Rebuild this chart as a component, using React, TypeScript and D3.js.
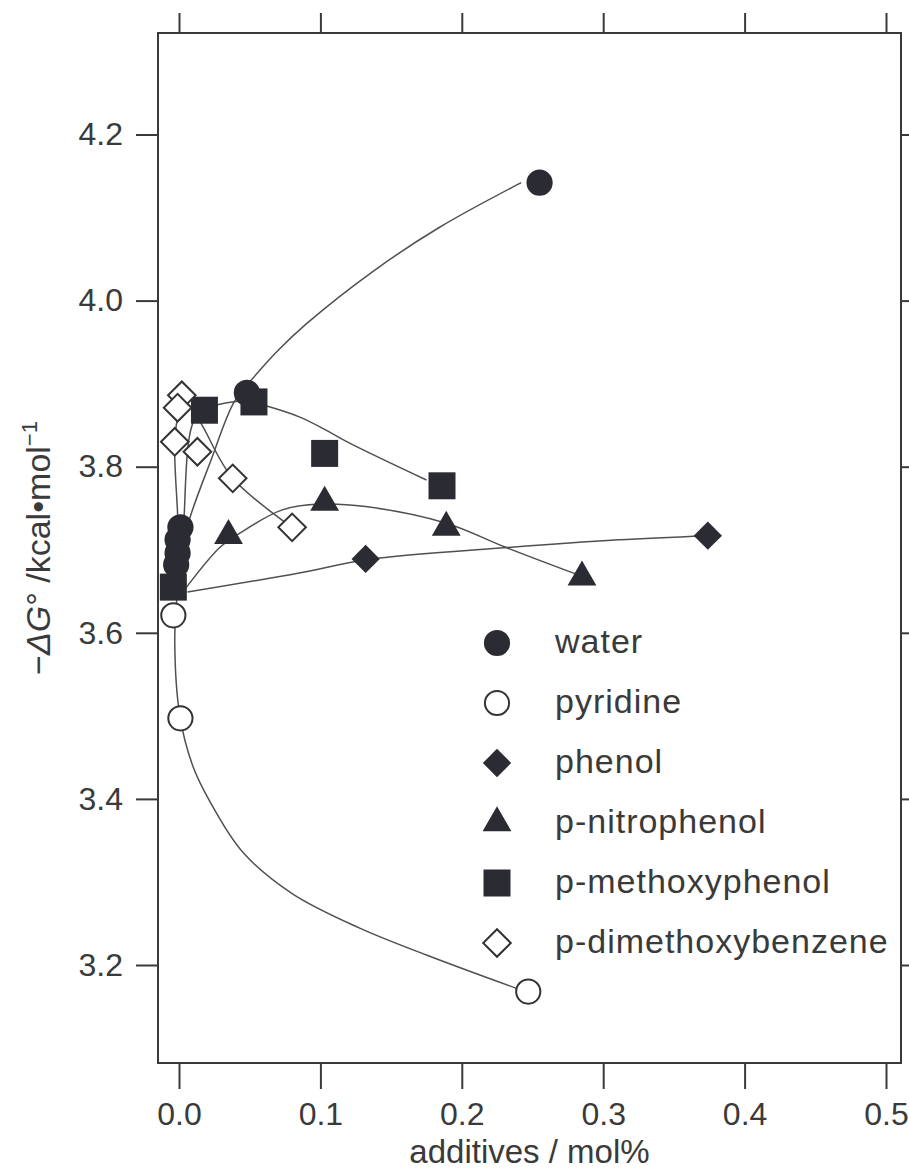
import React, { useEffect, useRef } from 'react';
import * as d3 from 'd3';

// tick values
const xTicks = [0, 0.1, 0.2, 0.3, 0.4, 0.5];
const yTicks = [3.2, 3.4, 3.6, 3.8, 4.0, 4.2];

// measured points [additive mol%, -dG]
const water = [[0.001, 3.727], [-0.001, 3.712], [-0.001, 3.696], [-0.002, 3.682], [0.048, 3.889], [0.255, 4.142]];
const pyridine = [[-0.004, 3.621], [0.001, 3.497], [0.247, 3.168]];
const phenol = [[0.132, 3.689], [0.374, 3.717]];
const nitrophenol = [[0.035, 3.717], [0.103, 3.757], [0.189, 3.727], [0.285, 3.667]];
const methoxyphenol = [[-0.004, 3.655], [0.018, 3.868], [0.053, 3.878], [0.103, 3.816], [0.186, 3.777]];
const dimethoxybenzene = [[0.002, 3.886], [-0.001, 3.871], [-0.003, 3.83], [0.013, 3.818], [0.038, 3.786], [0.08, 3.727]];

// fitted curves
const waterFit = [[-0.001, 3.652], [0.002, 3.7], [0.008, 3.74], [0.022, 3.805], [0.039, 3.878], [0.051, 3.904], [0.07, 3.94], [0.09, 3.972], [0.137, 4.035], [0.184, 4.088], [0.242, 4.142]];
const pyridineFit = [[-0.001, 3.652], [-0.003, 3.59], [0.0007, 3.499], [0.0099, 3.439], [0.0218, 3.397], [0.045, 3.336], [0.08, 3.286], [0.127, 3.245], [0.175, 3.212], [0.24, 3.171]];
const phenolFit = [[0.006, 3.649], [0.085, 3.672], [0.133, 3.688], [0.235, 3.703], [0.311, 3.712], [0.374, 3.717]];
const nitrophenolFit = [[0.004, 3.652], [0.029, 3.703], [0.043, 3.72], [0.073, 3.748], [0.1, 3.755], [0.132, 3.752], [0.189, 3.732], [0.231, 3.703], [0.282, 3.67]];
const methoxyphenolFit = [[-0.001, 3.652], [0.001, 3.7], [0.003, 3.725], [0.01, 3.853], [0.02, 3.87], [0.034, 3.877], [0.048, 3.879], [0.062, 3.873], [0.085, 3.86], [0.103, 3.845], [0.12, 3.829], [0.175, 3.784]];
const dimethoxybenzeneFit = [[-0.001, 3.652], [-0.0006, 3.725], [-0.003, 3.83], [0, 3.865], [0.004, 3.878], [0.01, 3.868], [0.017, 3.848], [0.038, 3.786], [0.08, 3.727]];

const legendLabels = ['water', 'pyridine', 'phenol', 'p-nitrophenol', 'p-methoxyphenol', 'p-dimethoxybenzene'];

const INK = '#2b2b33';
const LINE = '#505050';
const AXIS = '#3a3a3a';
const FONT = '"Liberation Sans", Arial, Helvetica, sans-serif';

export default function App() {
  const ref = useRef<SVGSVGElement | null>(null);

  const width = 909;
  const height = 1175;
  const frame = { left: 158, right: 901, top: 33, bottom: 1063 };

  useEffect(() => {
    const svg = d3.select(ref.current);
    svg.selectAll('*').remove();

    // 0.0 at px 179, 0.5 at px 886
    const x = d3.scaleLinear().domain([0, 0.5]).range([179, 886]);
    const y = d3.scaleLinear().domain([3.2, 4.2]).range([965, 134.5]);

    // frame
    svg.append('rect')
      .attr('x', frame.left)
      .attr('y', frame.top)
      .attr('width', frame.right - frame.left)
      .attr('height', frame.bottom - frame.top)
      .attr('fill', 'none')
      .attr('stroke', AXIS)
      .attr('stroke-width', 2);

    const axisStyle = (g: any) => {
      g.select('.domain').remove();
      g.selectAll('line').attr('stroke', AXIS).attr('stroke-width', 2);
      g.selectAll('text')
        .attr('fill', AXIS)
        .style('font-family', FONT)
        .style('font-size', '32px');
    };

    svg.append('g')
      .attr('transform', `translate(0,${frame.bottom})`)
      .call(d3.axisBottom(x).tickValues(xTicks).tickSize(26).tickPadding(13).tickFormat(d3.format('.1f')))
      .call(axisStyle);

    svg.append('g')
      .attr('transform', `translate(0,${frame.top})`)
      .call(d3.axisTop(x).tickValues(xTicks).tickSize(20).tickFormat(() => ''))
      .call(axisStyle);

    svg.append('g')
      .attr('transform', `translate(${frame.left},0)`)
      .call(d3.axisLeft(y).tickValues(yTicks).tickSize(22).tickPadding(13).tickFormat(d3.format('.1f')))
      .call(axisStyle);

    svg.append('g')
      .attr('transform', `translate(${frame.right},0)`)
      .call(d3.axisRight(y).tickValues(yTicks).tickSize(22).tickFormat(() => ''))
      .call(axisStyle);

    // axis titles
    svg.append('text')
      .attr('x', (frame.left + frame.right) / 2)
      .attr('y', 1163)
      .attr('text-anchor', 'middle')
      .attr('fill', AXIS)
      .style('font-family', FONT)
      .style('font-size', '33px')
      .text('additives / mol%');

    const yl = svg.append('text')
      .attr('transform', `translate(50,${(frame.top + frame.bottom) / 2}) rotate(-90)`)
      .attr('text-anchor', 'middle')
      .attr('fill', AXIS)
      .style('font-family', FONT)
      .style('font-size', '34px');
    yl.append('tspan').text('−');
    yl.append('tspan').style('font-style', 'italic').text('ΔG');
    yl.append('tspan').text('° /kcal•mol');
    yl.append('tspan').attr('dy', -13).style('font-size', '22px').text('−1');

    // fitted curves
    const line = d3.line<number[]>()
      .x((d) => x(d[0]))
      .y((d) => y(d[1]))
      .curve(d3.curveCatmullRom.alpha(0.5));

    [pyridineFit, phenolFit, nitrophenolFit, methoxyphenolFit, dimethoxybenzeneFit, waterFit].forEach((fit) => {
      svg.append('path')
        .attr('d', line(fit as number[][]))
        .attr('fill', 'none')
        .attr('stroke', LINE)
        .attr('stroke-width', 1.5);
    });

    // marker definitions
    const markers: Record<string, { type: any; size: number; rotate: number; open: boolean }> = {
      water: { type: d3.symbolCircle, size: 540, rotate: 0, open: false },
      pyridine: { type: d3.symbolCircle, size: 460, rotate: 0, open: true },
      phenol: { type: d3.symbolSquare, size: 400, rotate: 45, open: false },
      'p-nitrophenol': { type: d3.symbolTriangle, size: 360, rotate: 0, open: false },
      'p-methoxyphenol': { type: d3.symbolSquare, size: 729, rotate: 0, open: false },
      'p-dimethoxybenzene': { type: d3.symbolSquare, size: 380, rotate: 45, open: true },
    };

    const drawMarkers = (data: number[][], key: string) => {
      const m = markers[key];
      const sym = d3.symbol().type(m.type).size(m.size);
      svg.append('g')
        .selectAll('path')
        .data(data)
        .enter()
        .append('path')
        .attr('d', sym)
        .attr('transform', (d) => `translate(${x(d[0])},${y(d[1])}) rotate(${m.rotate})`)
        .attr('fill', m.open ? '#ffffff' : INK)
        .attr('stroke', m.open ? '#333' : 'none')
        .attr('stroke-width', m.open ? 2 : 0);
    };

    drawMarkers(pyridine, 'pyridine');
    drawMarkers(phenol, 'phenol');
    drawMarkers(nitrophenol, 'p-nitrophenol');
    drawMarkers(water, 'water');
    drawMarkers(methoxyphenol, 'p-methoxyphenol');
    drawMarkers(dimethoxybenzene, 'p-dimethoxybenzene');

    // legend
    const legend = svg.append('g');
    legendLabels.forEach((label, i) => {
      const cy = 643 + i * 60;
      const m = markers[label];
      legend.append('path')
        .attr('d', d3.symbol().type(m.type).size(m.size)())
        .attr('transform', `translate(497,${cy}) rotate(${m.rotate})`)
        .attr('fill', m.open ? '#ffffff' : INK)
        .attr('stroke', m.open ? '#333' : 'none')
        .attr('stroke-width', m.open ? 2 : 0);
      legend.append('text')
        .attr('x', 555)
        .attr('y', cy + 10)
        .attr('fill', AXIS)
        .style('font-family', FONT)
        .style('font-size', '34px')
        .style('letter-spacing', '1px')
        .text(label);
    });
  }, []);

  return (
    <svg
      ref={ref}
      width={width}
      height={height}
      style={{ position: 'absolute', left: 0, top: 0, background: '#fff' }}
    />
  );
}
